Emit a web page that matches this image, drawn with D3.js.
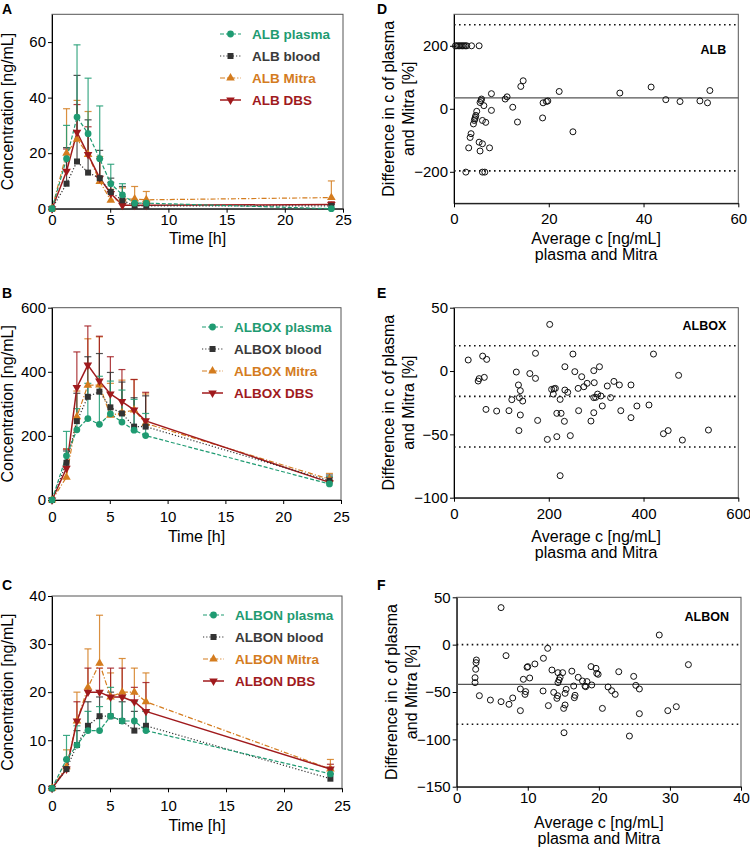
<!DOCTYPE html>
<html><head><meta charset="utf-8">
<script src="https://cdn.jsdelivr.net/npm/d3@7"></script>
<style>
body{margin:0;background:#fff;}
svg{display:block;font-family:"Liberation Sans",Arial,sans-serif;}
</style></head>
<body><svg id="chart" width="750" height="848"></svg>
<script>
// ---------- Data ----------
const times = [0, 1.25, 2.15, 3.1, 4.1, 5.05, 6.05, 7.1, 8.1, 24];
const xTicksPK = [0, 5, 10, 15, 20, 25];

// ALB (panel A)
const albPlasma   = [0, 18, 33, 27, 18, 9, 5, 2, 2, 0];
const albPlasmaSD = [0, 12, 26, 20, 19, 7, 4, 1, 0.5, 0];
const albBlood    = [0, 9, 17, 13, 11, 6, 3, 1, 1, 1];
const albBloodSD  = [0, 13, 31, 19, 10, 5, 5, 2, 1, 0.5];
const albMitra    = [0, 20, 25, 19.5, 9.8, 3, 3.5, 3.5, 3.2, 4];
const albMitraSD  = [0, 16, 14, 15.5, 9, 4, 4, 4.5, 3, 6];
const albDBS      = [0, 13.5, 27.5, 19.5, 11, 5.5, 1.2, 1.2, 1.2, 1.5];
const albDBSSD    = [0, 8, 10, 10, 7, 4, 2, 1, 1, 1];
const albYTicks   = [0, 20, 40, 60];

// ALBOX (panel B)
const alboxPlasma   = [0, 138, 219, 254, 236, 269, 243, 218, 201, 50];
const alboxPlasmaSD = [0, 76, 66, 110, 150, 102, 100, 96, 69, 23];
const alboxBlood    = [0, 116, 246, 322, 338, 289, 270, 229, 229, 60];
const alboxBloodSD  = [0, 37, 87, 125, 119, 109, 98, 90, 96, 18];
const alboxMitra    = [0, 71, 260, 358, 359, 264, 272, 281, 239, 65];
const alboxMitraSD  = [0, 88, 80, 145, 150, 100, 102, 95, 92, 18];
const alboxDBS      = [0, 99, 351, 421, 371, 331, 307, 281, 247, 55];
const alboxDBSSD    = [0, 60, 111, 122, 140, 116, 100, 95, 89, 15];
const alboxYTicks   = [0, 200, 400, 600];

// ALBON (panel C)
const albonPlasma   = [0, 6, 9, 12, 12, 15, 14, 14, 12, 3];
const albonPlasmaSD = [0, 5, 4, 4, 5, 6, 5, 4, 4, 1];
const albonBlood    = [0, 4, 9, 13, 15, 15, 14, 12, 13, 2];
const albonBloodSD  = [0, 2, 3, 5, 4, 5, 4, 4, 3, 1];
const albonMitra    = [0, 4.5, 14, 21, 26, 19, 20, 20, 18, 4];
const albonMitraSD  = [0, 3.5, 6, 8, 10, 5, 7, 5, 6, 2];
const albonDBS      = [0, 4, 14, 20, 20, 19, 19, 18, 16, 4];
const albonDBSSD    = [0, 2, 4, 5, 5, 6, 6, 3, 6, 1];
const albonYTicks   = [0, 10, 20, 30, 40];

// Bland-Altman ALB (panel D)
const dAvg  = [0.3,0.6,0.9,1.2,1.5,1.8,2.1,2.4,2.7,3.7,5.3,14.6,14.1,7.9,5.7,5.8,5.5,6.3,7.9,4.8,4.6,4.5,4.4,4.3,4.1,6.0,6.7,3.6,3.4,3.1,5.3,6.0,5.5,7.5,2.5,6.0,6.5,10.8,11.2,12.4,13.4,18.7,18.8,19.5,19.8,22.2,25.1,35,41.6,44.7,47.7,51.9,53.5,54];
const dDiff = [200,200,200,200,200,200,200,200,200,200,200,89,71,48,26,31,20,10,-5,-8,-21,-27,-32,-37,-48,-37,-43,-79,-91,-124,-106,-111,-134,-124,-201,-201,-201,31,38,5,-42,-29,19,23,25,55,-73,50,69,29,23,25,19,58];
const dLines = [35, 267, -197];
const dYTicks = [-200, 0, 200];
const dXTicks = [0, 20, 40, 60];

// Bland-Altman ALBOX (panel E)
const eAvg  = [30,60.5,69,51,53,64,67.5,90,116,131.5,136,140,138,122,145,140,137,160,172,172,176.5,202,197,206,211,214,209.5,217,217,224,226,224,233,234,234,240,245.5,251,255,262,263,269.5,274,281,289,295,296,295,295,299,303,307,310,313,323.5,330.5,337.5,349,352,373.5,373.5,386,411.5,421,442,452,474,482,537];
const eDiff = [8.7,11.8,9.2,-7.9,-6,-5,-30.3,-31.6,-31.3,-0.8,-11,-15.5,-21,-22.6,-23.7,-34.7,-47,-2,-5.8,14,-39,36.8,-54,-14.5,-14,-13.7,-18.2,-51.8,-33.4,-22.4,-33.4,-82.6,-39.7,3.4,-15,-16.8,-51,13.4,-0.5,-13.7,-31.3,-4.5,-12.4,-9.7,-39.5,0.3,-9.2,-32.9,-21,-20.8,-18.2,3.4,-19.7,-27.6,-11.8,-21,-8.2,-11,-31.3,-11,-36.8,-27.6,-26.8,13.4,-49.5,-47,-3.4,-54.5,-46.6];
const eLines = [-20, 20, -60];
const eYTicks = [-100, -50, 0, 50];
const eXTicks = [0, 200, 400, 600];

// Bland-Altman ALBON (panel F)
const fAvg  = [6.24,6.94,2.77,2.72,2.67,2.58,2.58,3.19,4.74,6.24,7.36,7.88,8.96,8.96,9.38,9.61,9.7,9.9,10.0,10.27,11.0,12.2,12.8,12.15,12.9,13.4,13.65,14.1,14.2,14.25,14.25,14.4,14.55,14.9,15.05,15.25,15.25,15.4,15.1,16.2,16.46,16.55,16.65,17.1,17.7,18.05,18.15,18.33,18.9,19.0,19.6,19.7,19.9,20.5,21.3,21.8,22.3,22.8,24.9,25.2,25.7,25.7,24.3,28.5,29.7,30.9,32.6];
const fDiff = [39.1,-11.6,-16.2,-19,-26,-34.9,-40.1,-53.9,-58.5,-60.2,-63,-56.3,-69.7,-46.8,-36.6,-52.5,-49.6,-23.9,-23.2,-35.2,-20.4,-14.4,-3.9,-48.9,-64.4,-26.8,-50.4,-56.7,-53.9,-29.6,-40.1,-37.3,-34.5,-29.6,-67.3,-63.7,-51.4,-47.2,-93,-28,-43.7,-56,-53.5,-34.5,-38.4,-43.7,-44.4,-39,-23.2,-42.6,-25,-30.3,-31.3,-67.3,-44.7,-48.6,-52.5,-28.6,-33.5,-43,-46.8,-72.9,-96.5,10.2,-69.7,-65.5,-21.1];
const fLines = [-42, 0, -84];
const fYTicks = [-150, -100, -50, 0, 50];
const fXTicks = [0, 10, 20, 30, 40];

// ---------- Styles ----------
const COL = {plasma:"#1f9b72", blood:"#333333", mitra:"#d47c1e", dbs:"#a01a1d"};
const DASH = {plasma:"4,2", blood:"1.2,2", mitra:"5,2,1.2,2", dbs:null};
const SYM = {plasma:"circle", blood:"square", mitra:"tri", dbs:"tridown"};

const svg = d3.select("#chart");
const FONT = '"Liberation Sans",Arial,sans-serif';

function marker(g, type, x, y, color){
  let s;
  if(type==="circle") s = d3.symbol(d3.symbolCircle, 36)();
  else if(type==="square") s = d3.symbol(d3.symbolSquare, 36)();
  else s = d3.symbol(d3.symbolTriangle, 32)();
  return g.append("path").attr("d", s).attr("fill", color)
    .attr("transform", `translate(${x},${y})` + (type==="tridown" ? " rotate(180)" : ""));
}

function styleAxis(ax){
  ax.selectAll("path,line").attr("stroke","#000").attr("stroke-width",1);
  ax.selectAll("text").attr("font-size",15).attr("fill","#000").attr("font-family",FONT);
}

function frame(g, x0, x1, y0, y1){
  g.append("rect").attr("x",x0).attr("y",y0).attr("width",x1-x0).attr("height",y1-y0)
    .attr("fill","none").attr("stroke","#555").attr("stroke-width",1);
}

function pkPanel(cfg){
  const g = svg.append("g");
  const x = d3.scaleLinear().domain([0,25]).range([cfg.x0, cfg.x1]);
  const y = d3.scaleLinear().domain([0,cfg.ymax]).range([cfg.y1, cfg.y0]);
  frame(g, cfg.x0, cfg.x1, cfg.y0, cfg.y1);
  const ay = g.append("g").attr("transform",`translate(${cfg.x0},0)`)
    .call(d3.axisLeft(y).tickValues(cfg.yticks).tickSize(4).tickPadding(2).tickSizeOuter(0));
  styleAxis(ay);
  const ax = g.append("g").attr("transform",`translate(0,${cfg.y1})`)
    .call(d3.axisBottom(x).tickValues(xTicksPK).tickSize(4).tickPadding(cfg.xPad).tickSizeOuter(0));
  styleAxis(ax);
  g.append("text").attr("x",(cfg.x0+cfg.x1)/2).attr("y",cfg.y1+cfg.titleOff).attr("text-anchor","middle")
    .attr("font-size",16).text("Time [h]");
  g.append("text").attr("transform",`translate(${cfg.x0-39},${(cfg.y0+cfg.y1)/2}) rotate(-90)`)
    .attr("text-anchor","middle").attr("font-size",16).text("Concentration [ng/mL]");
  g.append("text").attr("x",2).attr("y",cfg.labelY).attr("font-size",14).attr("font-weight","bold").text(cfg.label);

  const order = ["mitra","dbs","blood","plasma"];
  order.forEach(k=>{
    const s = cfg.series[k];
    times.forEach((t,i)=>{
      if(s.sd[i] <= 0) return;
      const px = x(t), py = y(s.vals[i]), pt = y(s.vals[i]+s.sd[i]);
      g.append("line").attr("x1",px).attr("x2",px).attr("y1",py).attr("y2",pt)
        .attr("stroke",COL[k]).attr("stroke-width",1.2).attr("stroke-opacity",0.85);
      g.append("line").attr("x1",px-3.5).attr("x2",px+3.5).attr("y1",pt).attr("y2",pt)
        .attr("stroke",COL[k]).attr("stroke-width",1.2).attr("stroke-opacity",0.85);
    });
  });
  const line = d3.line().x((d,i)=>x(times[i])).y(d=>y(d));
  order.forEach(k=>{
    const s = cfg.series[k];
    g.append("path").attr("d", line(s.vals)).attr("fill","none").attr("stroke",COL[k])
      .attr("stroke-width", k==="dbs"?1.5:1.2).attr("stroke-dasharray", DASH[k]);
  });
  order.forEach(k=>{
    const s = cfg.series[k];
    times.forEach((t,i)=> marker(g, SYM[k], x(t), y(s.vals[i]), COL[k]));
  });
  const keys = ["plasma","blood","mitra","dbs"];
  const names = {plasma:"plasma", blood:"blood", mitra:"Mitra", dbs:"DBS"};
  keys.forEach((k,i)=>{
    const ly = cfg.legY + i*22;
    g.append("line").attr("x1",cfg.legX).attr("x2",cfg.legX+21).attr("y1",ly).attr("y2",ly)
      .attr("stroke",COL[k]).attr("stroke-width",k==="dbs"?1.5:1.2).attr("stroke-dasharray",DASH[k]);
    marker(g, SYM[k], cfg.legX+10.5, ly, COL[k]);
    g.append("text").attr("x",cfg.legX+32).attr("y",ly+5).attr("font-size",13.5).attr("font-weight","bold")
      .attr("fill", k==="blood" ? "#3a3a3a" : COL[k]).text(cfg.drug+" "+names[k]);
  });
}

function baPanel(cfg){
  const g = svg.append("g");
  const x = d3.scaleLinear().domain(cfg.xdom).range([cfg.x0, cfg.x1]);
  const y = d3.scaleLinear().domain(cfg.ydom).range([cfg.y1, cfg.y0]);
  frame(g, cfg.x0, cfg.x1, cfg.y0, cfg.y1);
  const ay = g.append("g").attr("transform",`translate(${cfg.x0},0)`)
    .call(d3.axisLeft(y).tickValues(cfg.yticks).tickSize(4).tickPadding(2).tickSizeOuter(0));
  styleAxis(ay);
  const ax = g.append("g").attr("transform",`translate(0,${cfg.y1})`)
    .call(d3.axisBottom(x).tickValues(cfg.xticks).tickSize(4).tickPadding(cfg.xPad).tickSizeOuter(0));
  styleAxis(ax);
  cfg.lines.forEach((v,i)=>{
    const solid = (i===0 && !cfg.meanDotted);
    g.append("line").attr("x1",cfg.x0).attr("x2",cfg.x1).attr("y1",y(v)).attr("y2",y(v))
      .attr("stroke", solid ? "#555" : "#111").attr("stroke-width", solid?1.2:1.6)
      .attr("stroke-dasharray", solid ? null : "1.6,3.4");
  });
  cfg.avg.forEach((a,i)=>{
    g.append("circle").attr("cx",x(a)).attr("cy",y(cfg.diff[i])).attr("r",3)
      .attr("fill","none").attr("stroke","#111").attr("stroke-width",1);
  });
  g.append("text").attr("x",cfg.x1-12).attr("y",cfg.tagY).attr("text-anchor","end")
    .attr("font-size",12.5).attr("font-weight","bold").text(cfg.tag);
  const cx = (cfg.x0+cfg.x1)/2;
  g.append("text").attr("x",cx).attr("y",cfg.y1+cfg.titleOff).attr("text-anchor","middle").attr("font-size",16).text("Average c [ng/mL]");
  g.append("text").attr("x",cx).attr("y",cfg.y1+cfg.titleOff+16).attr("text-anchor","middle").attr("font-size",16).text("plasma and Mitra");
  const cy = (cfg.y0+cfg.y1)/2;
  g.append("text").attr("transform",`translate(${cfg.x0-60},${cy}) rotate(-90)`).attr("text-anchor","middle")
    .attr("font-size",16).text("Difference in c of plasma");
  g.append("text").attr("transform",`translate(${cfg.x0-40},${cy}) rotate(-90)`).attr("text-anchor","middle")
    .attr("font-size",16).text("and Mitra [%]");
  g.append("text").attr("x",377).attr("y",cfg.labelY).attr("font-size",14).attr("font-weight","bold").text(cfg.label);
}

pkPanel({label:"A", labelY:14, drug:"ALB", x0:52, x1:343, y0:14.3, y1:208.7, ymax:70, yticks:albYTicks, legX:220, legY:34, xPad:2, titleOff:35,
  series:{plasma:{vals:albPlasma,sd:albPlasmaSD}, blood:{vals:albBlood,sd:albBloodSD}, mitra:{vals:albMitra,sd:albMitraSD}, dbs:{vals:albDBS,sd:albDBSSD}}});
pkPanel({label:"B", labelY:298, drug:"ALBOX", x0:52, x1:341, y0:307.7, y1:500, ymax:600, yticks:alboxYTicks, legX:202, legY:327, xPad:7, titleOff:42,
  series:{plasma:{vals:alboxPlasma,sd:alboxPlasmaSD}, blood:{vals:alboxBlood,sd:alboxBloodSD}, mitra:{vals:alboxMitra,sd:alboxMitraSD}, dbs:{vals:alboxDBS,sd:alboxDBSSD}}});
pkPanel({label:"C", labelY:590, drug:"ALBON", x0:52, x1:342, y0:596, y1:788.3, ymax:40, yticks:albonYTicks, legX:203, legY:615, xPad:8, titleOff:43,
  series:{plasma:{vals:albonPlasma,sd:albonPlasmaSD}, blood:{vals:albonBlood,sd:albonBloodSD}, mitra:{vals:albonMitra,sd:albonMitraSD}, dbs:{vals:albonDBS,sd:albonDBSSD}}});

baPanel({label:"D", labelY:14, tag:"ALB", tagY:54, x0:454, x1:738.3, y0:14.3, y1:203.3, xdom:[0,60], ydom:[-300,300], xPad:6, titleOff:41,
  xticks:dXTicks, yticks:dYTicks, lines:dLines, avg:dAvg, diff:dDiff});
baPanel({label:"E", labelY:298, tag:"ALBOX", tagY:330, x0:454, x1:738.3, y0:307.7, y1:497.7, xdom:[0,600], ydom:[-100,50], xPad:7, titleOff:44,
  xticks:eXTicks, yticks:eYTicks, lines:eLines, avg:eAvg, diff:eDiff, meanDotted:true});
baPanel({label:"F", labelY:590, tag:"ALBON", tagY:621, x0:456.7, x1:741, y0:597.3, y1:786.7, xdom:[0,40], ydom:[-150,50], xPad:2, titleOff:41,
  xticks:fXTicks, yticks:fYTicks, lines:fLines, avg:fAvg, diff:fDiff});
</script>
</body></html>
